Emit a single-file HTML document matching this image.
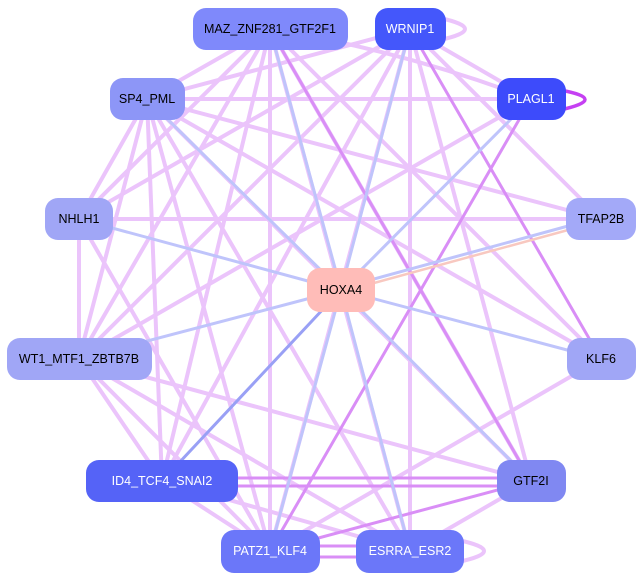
<!DOCTYPE html>
<html><head><meta charset="utf-8"><style>
html,body{margin:0;padding:0;background:#fff;width:643px;height:581px;overflow:hidden}
svg{display:block}
text{font-family:"Liberation Sans",sans-serif;font-size:12.5px;dominant-baseline:central;text-anchor:middle}
</style></head><body>
<svg width="643" height="581" viewBox="0 0 643 581">
<g stroke="#ebc4fb" stroke-width="4" fill="none" stroke-linecap="round">
<line x1="270" y1="29" x2="147" y2="99"/><line x1="270" y1="29" x2="79" y2="219"/>
<line x1="270" y1="29" x2="79" y2="359"/><line x1="270" y1="29" x2="162" y2="481"/>
<line x1="270" y1="29" x2="270" y2="551"/><line x1="270" y1="29" x2="410" y2="551"/>
<line x1="270" y1="29" x2="531" y2="481"/><line x1="270" y1="29" x2="601" y2="359"/>
<path d="M270 29 Q400 50 531 99"/>
<line x1="410" y1="29" x2="147" y2="99"/><line x1="410" y1="29" x2="79" y2="219"/>
<line x1="410" y1="29" x2="79" y2="359"/><line x1="410" y1="29" x2="162" y2="481"/>
<line x1="410" y1="29" x2="270" y2="551"/><line x1="410" y1="29" x2="410" y2="551"/>
<line x1="410" y1="29" x2="531" y2="481"/><line x1="410" y1="29" x2="531" y2="99"/>
<line x1="410" y1="29" x2="601" y2="219"/>
<line x1="531" y1="99" x2="147" y2="99"/><line x1="531" y1="99" x2="79" y2="359"/>
<line x1="147" y1="99" x2="601" y2="219"/><line x1="147" y1="99" x2="79" y2="219"/>
<line x1="147" y1="99" x2="79" y2="359"/><line x1="147" y1="99" x2="162" y2="481"/>
<line x1="147" y1="99" x2="270" y2="551"/><line x1="147" y1="99" x2="410" y2="551"/>
<line x1="147" y1="99" x2="531" y2="481"/><line x1="147" y1="99" x2="601" y2="359"/>
<line x1="79" y1="219" x2="79" y2="359"/><line x1="79" y1="219" x2="601" y2="219"/>
<line x1="79" y1="219" x2="270" y2="551"/>
<line x1="79" y1="359" x2="162" y2="481"/><line x1="79" y1="359" x2="531" y2="481"/>
<line x1="79" y1="359" x2="270" y2="551"/><line x1="79" y1="359" x2="410" y2="551"/>
<line x1="162" y1="481" x2="270" y2="551"/><line x1="162" y1="481" x2="410" y2="551"/>
<line x1="270" y1="551" x2="601" y2="359"/><line x1="410" y1="551" x2="531" y2="481"/>
<path d="M440 18 Q490 29 440 40"/><path d="M458 540 Q510 551 458 562"/>
</g>
<g stroke="#d98ef6" stroke-width="3" fill="none">
<line x1="531" y1="99" x2="270" y2="551"/><line x1="410" y1="29" x2="601" y2="359"/>
<line x1="238" y1="478" x2="497" y2="478"/><line x1="238" y1="486" x2="497" y2="486"/>
<line x1="270" y1="551" x2="531" y2="481"/><line x1="270" y1="29" x2="531" y2="481"/>
<line x1="320" y1="546" x2="356" y2="546"/><line x1="320" y1="557" x2="356" y2="557"/>
</g>
<path d="M560 90 Q610 99 560 110" stroke="#c540f2" stroke-width="3.5" fill="none"/>
<g stroke="#bfc4fb" stroke-width="3">
<line x1="270" y1="29" x2="341" y2="290"/><line x1="410" y1="29" x2="341" y2="290"/>
<line x1="531" y1="99" x2="341" y2="290"/><line x1="147" y1="99" x2="341" y2="290"/>
<line x1="79" y1="219" x2="341" y2="290"/><line x1="79" y1="359" x2="341" y2="290"/>
<line x1="601" y1="359" x2="341" y2="290"/><line x1="531" y1="481" x2="341" y2="290"/>
<line x1="270" y1="551" x2="341" y2="290"/><line x1="410" y1="551" x2="341" y2="290"/>
<line x1="341" y1="288" x2="601" y2="217"/>
</g>
<line x1="162" y1="481" x2="341" y2="290" stroke="#99a0f5" stroke-width="3"/>
<line x1="341" y1="292" x2="601" y2="221" stroke="#f8c8c0" stroke-width="2.5"/>
<g>
<rect x="193" y="8" width="155" height="42" rx="13" fill="#7f89fb"/>
<text x="270" y="29" fill="#000">MAZ_ZNF281_GTF2F1</text>
<rect x="375" y="8" width="71" height="42" rx="13" fill="#4457fb"/>
<text x="410" y="29" fill="#fff">WRNIP1</text>
<rect x="497" y="78" width="69" height="42" rx="13" fill="#3d4bfb"/>
<text x="531" y="99" fill="#fff">PLAGL1</text>
<rect x="110" y="78" width="75" height="42" rx="13" fill="#8d96f7"/>
<text x="147" y="99" fill="#000">SP4_PML</text>
<rect x="566" y="198" width="70" height="42" rx="13" fill="#a3a9f8"/>
<text x="601" y="219" fill="#000">TFAP2B</text>
<rect x="45" y="198" width="68" height="42" rx="13" fill="#a0a6f6"/>
<text x="79" y="219" fill="#000">NHLH1</text>
<rect x="307" y="268" width="68" height="44" rx="13" fill="#ffbcb8"/>
<text x="341" y="290" fill="#000">HOXA4</text>
<rect x="7" y="338" width="145" height="42" rx="13" fill="#a0a6f6"/>
<text x="79" y="359" fill="#000">WT1_MTF1_ZBTB7B</text>
<rect x="567" y="338" width="69" height="42" rx="13" fill="#a0a6f6"/>
<text x="601" y="359" fill="#000">KLF6</text>
<rect x="86" y="460" width="152" height="42" rx="13" fill="#5563f7"/>
<text x="162" y="481" fill="#fff">ID4_TCF4_SNAI2</text>
<rect x="497" y="460" width="69" height="42" rx="13" fill="#8088f2"/>
<text x="531" y="481" fill="#000">GTF2I</text>
<rect x="221" y="530" width="99" height="43" rx="13" fill="#6b77f9"/>
<text x="270" y="551" fill="#fff">PATZ1_KLF4</text>
<rect x="356" y="530" width="108" height="43" rx="13" fill="#6b77f9"/>
<text x="410" y="551" fill="#fff">ESRRA_ESR2</text>
</g>
</svg>
</body></html>
